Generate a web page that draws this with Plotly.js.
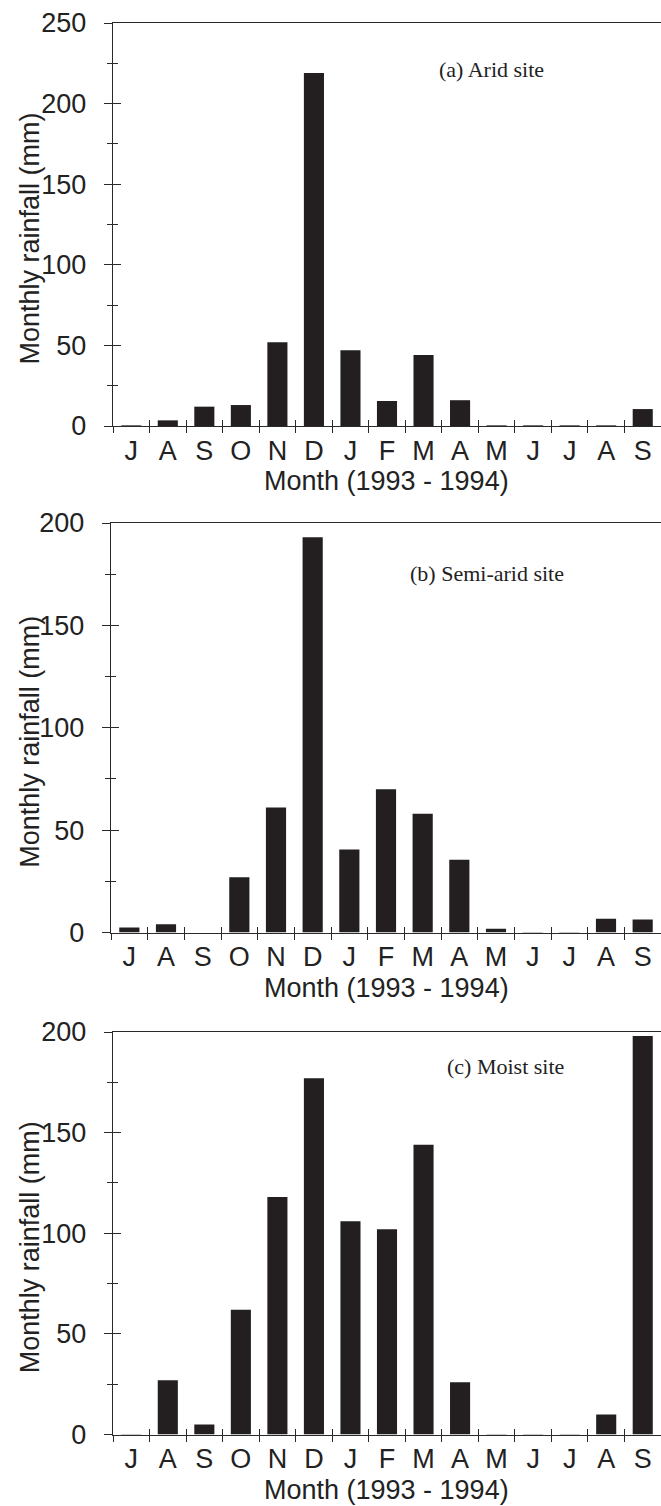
<!DOCTYPE html>
<html>
<head>
<meta charset="utf-8">
<script src="https://cdn.plot.ly/plotly-3.0.1.min.js"></script>
<style>
  html, body { margin: 0; padding: 0; background: #fff; }
  #chart { width: 661px; height: 1506px; }
</style>
</head>
<body>
<div id="chart"></div>
<script>
// ---- Data ----
const months = ['J','A','S','O','N','D','J','F','M','A','M','J','J','A','S'];
const aridRain     = [0.4, 3.5, 12, 13, 52, 219, 47, 15.5, 44, 16, 0.4, 0.4, 0.4, 0.4, 10.5];
const semiAridRain = [2.5, 4, 0, 27, 61, 193, 40.5, 70, 58, 35.5, 1.8, 0.3, 0.3, 6.7, 6.3];
const moistRain    = [0.3, 27, 5, 62, 118, 177, 106, 102, 144, 26, 0.3, 0.3, 0.3, 10, 198];
const panelLabels  = ['(a) Arid site', '(b) Semi-arid site', '(c) Moist site'];
const yMax         = [250, 200, 200];
const yTitle = 'Monthly rainfall (mm)';
const xTitle = 'Month (1993 - 1994)';

const series = [aridRain, semiAridRain, moistRain];

// ---- Layout geometry (pixels) ----
const W = 661, H = 1506;
const panels = [
  { top: 23,   bottom: 426,   left: 113 },
  { top: 523,  bottom: 932.5, left: 111 },
  { top: 1032, bottom: 1434.5, left: 113 }
];
const labelPos = [{ x: 492, dy: 47 }, { x: 487, dy: 50 }, { x: 505, dy: 34 }];

const FONT = 'Liberation Sans, Arial, sans-serif';
const SERIF = 'Liberation Serif, Times New Roman, serif';
const INK = '#231f20';
const AX = '#2a2a2a';
const FS = 27;

const idx = months.map((_, i) => i);
const bounds = months.map((_, i) => i - 0.5).concat([months.length - 0.5]);
const xRange = [-0.5, months.length - 0.5];

const data = [];
const layout = {
  width: W, height: H,
  margin: { l: 0, r: 0, t: 0, b: 0 },
  paper_bgcolor: '#fff', plot_bgcolor: 'rgba(0,0,0,0)',
  showlegend: false,
  bargap: 0.45,
  font: { family: FONT, size: FS, color: '#222' },
  annotations: []
};

panels.forEach((p, k) => {
  const n = k + 1;
  const nOut = k + 4, nIn = k + 7;
  const yd = [1 - p.bottom / H, 1 - p.top / H];
  const xd = [p.left / W, 1];

  layout['xaxis' + n] = {
    domain: xd, anchor: 'y' + n, range: xRange,
    tickmode: 'array', tickvals: idx, ticktext: months,
    ticks: '', showline: true, linecolor: AX, linewidth: 1.2, mirror: true,
    showgrid: false, zeroline: false, ticklabelstandoff: 0,
    tickfont: { family: FONT, size: FS, color: '#222' }, fixedrange: true
  };
  layout['yaxis' + n] = {
    domain: yd, anchor: 'x' + n, range: [0, yMax[k]],
    tickmode: 'linear', tick0: 0, dtick: 50,
    ticks: 'outside', ticklen: 8, tickwidth: 1, tickcolor: AX,
    minor: { dtick: 25, ticks: 'outside', ticklen: 5, tickwidth: 1, tickcolor: AX, showgrid: false },
    showline: true, linecolor: AX, linewidth: 1.2,
    showgrid: false, zeroline: false, ticklabelstandoff: 12,
    tickfont: { family: FONT, size: FS, color: '#222' }, fixedrange: true
  };
  layout['xaxis' + nOut] = {
    overlaying: 'x' + n, anchor: 'y' + n, range: xRange,
    tickmode: 'array', tickvals: bounds, showticklabels: false,
    ticks: 'outside', ticklen: 6, tickwidth: 1, tickcolor: AX,
    showline: false, showgrid: false, zeroline: false, fixedrange: true
  };
  layout['xaxis' + nIn] = {
    overlaying: 'x' + n, anchor: 'y' + n, range: xRange,
    tickmode: 'array', tickvals: bounds, showticklabels: false,
    ticks: 'inside', ticklen: 6, tickwidth: 1, tickcolor: AX,
    showline: false, showgrid: false, zeroline: false, fixedrange: true
  };
  layout['yaxis' + nOut] = {
    overlaying: 'y' + n, anchor: 'x' + n, range: [0, yMax[k]],
    tickmode: 'linear', tick0: 0, dtick: 50, showticklabels: false,
    ticks: 'inside', ticklen: 8, tickwidth: 1, tickcolor: AX,
    minor: { dtick: 25, ticks: 'inside', ticklen: 5, tickwidth: 1, tickcolor: AX, showgrid: false },
    showline: false, showgrid: false, zeroline: false, fixedrange: true
  };

  data.push({
    type: 'bar', x: idx, y: series[k], xaxis: 'x' + n, yaxis: 'y' + n,
    marker: { color: INK, line: { width: 0 } }, hoverinfo: 'skip'
  });
  data.push({ type: 'scatter', mode: 'markers', x: [], y: [], xaxis: 'x' + nOut, yaxis: 'y' + nOut, hoverinfo: 'skip' });
  data.push({ type: 'scatter', mode: 'markers', x: [], y: [], xaxis: 'x' + nIn, yaxis: 'y' + nOut, hoverinfo: 'skip' });

  layout.annotations.push({
    text: yTitle, xref: 'paper', yref: 'paper',
    x: 30 / W, y: 1 - ((p.top + p.bottom) / 2 + 14) / H,
    xanchor: 'center', yanchor: 'middle', textangle: -90, showarrow: false,
    font: { family: FONT, size: FS, color: '#222' }
  });
  layout.annotations.push({
    text: xTitle, xref: 'paper', yref: 'paper',
    x: ((p.left + W) / 2) / W, y: 1 - (p.bottom + 55) / H,
    xanchor: 'center', yanchor: 'middle', showarrow: false,
    font: { family: FONT, size: FS, color: '#222' }
  });
  layout.annotations.push({
    text: panelLabels[k], xref: 'paper', yref: 'paper',
    x: labelPos[k].x / W, y: 1 - (p.top + labelPos[k].dy) / H,
    xanchor: 'center', yanchor: 'middle', showarrow: false,
    font: { family: SERIF, size: 22, color: '#222' }
  });
});

Plotly.newPlot('chart', data, layout, { staticPlot: true, displayModeBar: false });
</script>
</body>
</html>
